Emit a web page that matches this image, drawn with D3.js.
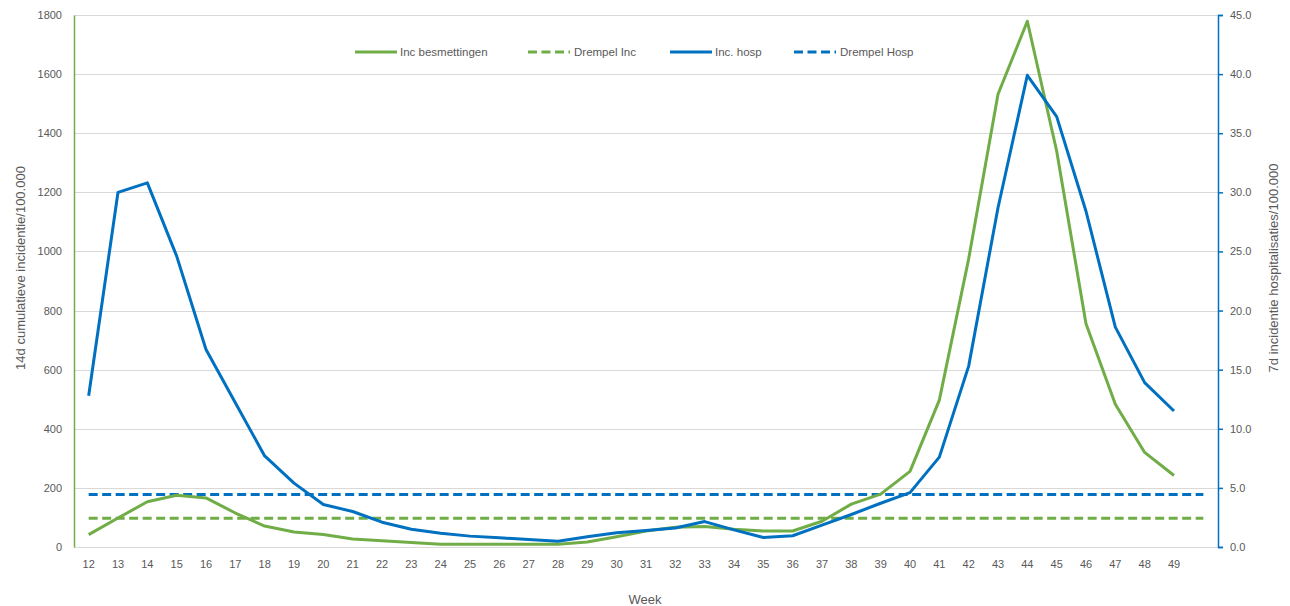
<!DOCTYPE html>
<html>
<head>
<meta charset="utf-8">
<script src="https://cdn.jsdelivr.net/npm/d3@7"></script>
<style>
  html, body { margin: 0; padding: 0; background: #fff; }
  svg { display: block; font-family: "Liberation Sans", Arial, sans-serif; }
</style>
</head>
<body>
<svg id="chart" width="1290" height="606"></svg>
<script>
// Week categories (week 50 has only the threshold lines, no label)
const weeks = ["12","13","14","15","16","17","18","19","20","21","22","23","24","25","26","27","28","29","30",
               "31","32","33","34","35","36","37","38","39","40","41","42","43","44","45","46","47","48","49","50"];
const weekLabels = ["12","13","14","15","16","17","18","19","20","21","22","23","24","25","26","27","28","29","30",
               "31","32","33","34","35","36","37","38","39","40","41","42","43","44","45","46","47","48","49",""];

// 14-day cumulative incidence of infections per 100.000 (left axis), weeks 12–49
const incBesmettingen = [42, 98, 153, 175, 166, 115, 71, 51, 42, 27, 21, 15, 9, 9, 9, 9, 9, 17, 35,
                         54, 67, 69, 60, 54, 54, 87, 145, 179, 256, 497, 975, 1532, 1779, 1340, 755, 483, 320, 242];
// 7-day incidence of hospitalisations per 100.000 (right axis), weeks 12–49
const incHosp = [12.8, 30.0, 30.8, 24.6, 16.7, 12.2, 7.7, 5.4, 3.6, 3.0, 2.1, 1.5, 1.16, 0.92, 0.78, 0.64, 0.49, 0.87, 1.2,
                 1.4, 1.6, 2.15, 1.45, 0.8, 0.95, 1.85, 2.75, 3.7, 4.6, 7.6, 15.3, 28.7, 39.9, 36.4, 28.4, 18.6, 13.9, 11.5];

// Threshold levels, drawn over weeks 12–50
const drempelInc = 97;
const drempelHosp = 4.45;

// Axis ticks
const leftTicks = [0, 200, 400, 600, 800, 1000, 1200, 1400, 1600, 1800];
const rightTicks = [0, 5, 10, 15, 20, 25, 30, 35, 40, 45];

const legendItems = [
  { label: "Inc besmettingen", color: "#70AD47", dashed: false },
  { label: "Drempel Inc",      color: "#70AD47", dashed: true },
  { label: "Inc. hosp",        color: "#0070C0", dashed: false },
  { label: "Drempel Hosp",     color: "#0070C0", dashed: true }
];

const GREEN = "#70AD47", BLUE = "#0070C0", TEXT = "#595959", GRID = "#D9D9D9";
const DASH = "9,4.5";
const plot = { left: 74, right: 1218, top: 15, bottom: 547 };

const svg = d3.select("#chart");

const x = d3.scaleBand().domain(weeks).range([plot.left, plot.right]).padding(0);
const cx = w => x(w) + x.bandwidth() / 2;
const yL = d3.scaleLinear().domain([0, 1800]).range([plot.bottom, plot.top]);
const yR = d3.scaleLinear().domain([0, 45]).range([plot.bottom, plot.top]);

// Horizontal gridlines
svg.append("g")
  .selectAll("line").data(leftTicks).join("line")
  .attr("x1", plot.left).attr("x2", plot.right)
  .attr("y1", d => Math.round(yL(d)) + 0.5).attr("y2", d => Math.round(yL(d)) + 0.5)
  .attr("stroke", GRID).attr("stroke-width", 1);

// Left axis
const gL = svg.append("g").attr("transform", `translate(${plot.left},0)`)
  .call(d3.axisLeft(yL).tickValues(leftTicks).tickSize(0).tickPadding(12).tickFormat(d3.format("d")));
gL.select(".domain").attr("stroke", GREEN).attr("stroke-width", 1.5);
gL.selectAll("text").attr("fill", TEXT).attr("font-size", 11).attr("font-family", "Liberation Sans, Arial, sans-serif");

// Right axis
const gR = svg.append("g").attr("transform", `translate(${plot.right},0)`)
  .call(d3.axisRight(yR).tickValues(rightTicks).tickSize(5).tickSizeOuter(5).tickPadding(7).tickFormat(d3.format(".1f")));
gR.select(".domain").attr("stroke", BLUE).attr("stroke-width", 1.5);
gR.selectAll(".tick line").attr("stroke", BLUE).attr("stroke-width", 1.5);
gR.selectAll("text").attr("fill", TEXT).attr("font-size", 11).attr("font-family", "Liberation Sans, Arial, sans-serif");

// Bottom axis labels
const gX = svg.append("g").attr("transform", `translate(0,${plot.bottom})`)
  .call(d3.axisBottom(x).tickSize(0).tickPadding(13).tickFormat((d, i) => weekLabels[i]));
gX.select(".domain").remove();
gX.selectAll("text").attr("fill", TEXT).attr("font-size", 11).attr("font-family", "Liberation Sans, Arial, sans-serif");

// Axis titles
svg.append("text").attr("transform", "translate(25,268) rotate(-90)")
  .attr("text-anchor", "middle").attr("fill", TEXT).attr("font-size", 13)
  .text("14d cumulatieve incidentie/100.000");
svg.append("text").attr("transform", "translate(1278,268) rotate(-90)")
  .attr("text-anchor", "middle").attr("fill", TEXT).attr("font-size", 13)
  .text("7d incidentie hospitalisaties/100.000");
svg.append("text").attr("x", 645).attr("y", 604)
  .attr("text-anchor", "middle").attr("fill", TEXT).attr("font-size", 13)
  .text("Week");

// Threshold lines
const dataWeeks = weeks.slice(0, incBesmettingen.length);
const lineL = d3.line().x(d => cx(d.w)).y(d => yL(d.v));
const lineR = d3.line().x(d => cx(d.w)).y(d => yR(d.v));

svg.append("path")
  .attr("d", lineL(weeks.map(w => ({ w, v: drempelInc }))))
  .attr("fill", "none").attr("stroke", GREEN).attr("stroke-width", 3).attr("stroke-dasharray", DASH);
svg.append("path")
  .attr("d", lineR(weeks.map(w => ({ w, v: drempelHosp }))))
  .attr("fill", "none").attr("stroke", BLUE).attr("stroke-width", 3).attr("stroke-dasharray", DASH);

// Series lines
svg.append("path")
  .attr("d", lineL(dataWeeks.map((w, i) => ({ w, v: incBesmettingen[i] }))))
  .attr("fill", "none").attr("stroke", GREEN).attr("stroke-width", 3).attr("stroke-linejoin", "round");
svg.append("path")
  .attr("d", lineR(dataWeeks.map((w, i) => ({ w, v: incHosp[i] }))))
  .attr("fill", "none").attr("stroke", BLUE).attr("stroke-width", 3).attr("stroke-linejoin", "round");

// Legend
const legendX = [355, 528, 670, 794];
const lg = svg.append("g");
legendItems.forEach((it, i) => {
  const g = lg.append("g").attr("transform", `translate(${legendX[i]},52)`);
  g.append("line").attr("x1", 0).attr("x2", 42).attr("y1", 0).attr("y2", 0)
    .attr("stroke", it.color).attr("stroke-width", 3)
    .attr("stroke-dasharray", it.dashed ? DASH : null);
  g.append("text").attr("x", it.dashed ? 46 : 45).attr("y", 4)
    .attr("fill", TEXT).attr("font-size", 11.5).text(it.label);
});
</script>
</body>
</html>
